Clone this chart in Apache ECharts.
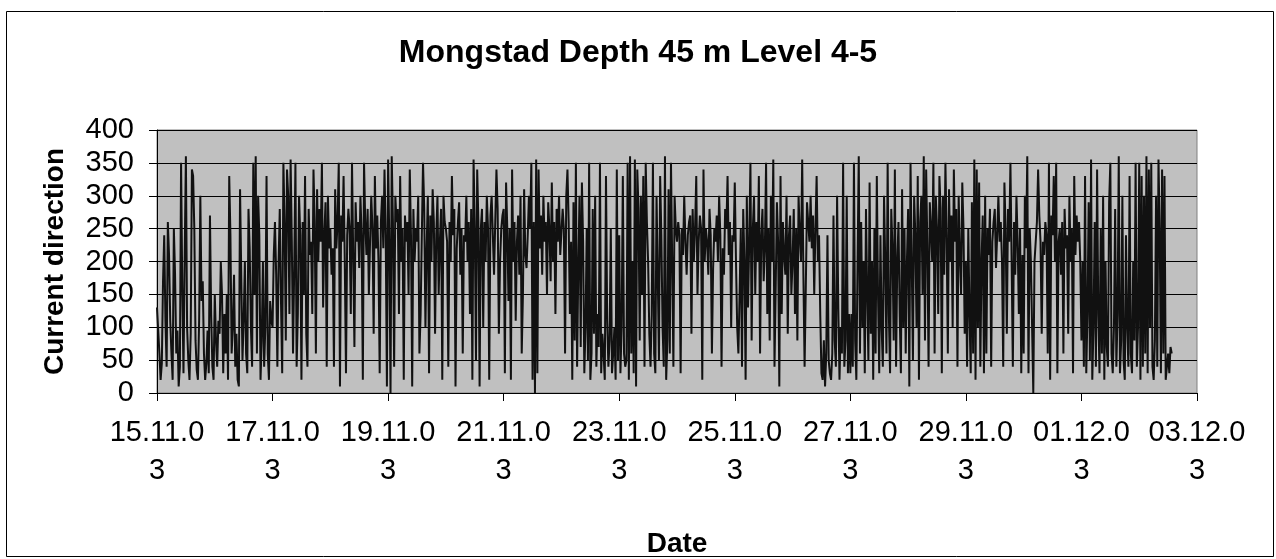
<!DOCTYPE html>
<html>
<head>
<meta charset="utf-8">
<script src="https://cdn.jsdelivr.net/npm/echarts@6/dist/echarts.min.js"></script>
<style>
html,body{margin:0;padding:0;background:#fff;}
#chart{width:1276px;height:559px;}
</style>
</head>
<body>
<div id="chart"></div>
<script>
// Half-hourly current direction (degrees), one array per day, starting 15.11.03 00:00
const day15 = [130,95,60,20,45,170,240,110,40,260,210,110,60,20,250,180,60,95,10,40,350,160,30,210,360,100,50,20,90,340,330,250,80,35,20,110,300,140,170,60,20,45,95,30,270,120,40,20];
const day16 = [150,80,40,110,90,200,150,30,120,60,150,20,330,240,60,100,180,40,90,20,10,310,180,50,110,200,60,30,280,220,100,40,350,150,360,60,300,240,20,80,200,40,100,330,60,20,140,110];
const day17 = [100,210,260,180,40,200,280,140,30,350,260,80,340,300,120,355,230,60,190,350,40,120,300,240,20,260,150,330,90,40,280,210,230,120,340,260,60,310,200,280,230,350,130,240,290,40,300,220];
const day18 = [250,180,220,40,310,220,260,350,10,270,230,330,200,30,240,280,250,120,350,210,70,290,230,260,190,300,240,20,350,260,210,280,150,230,300,250,90,330,220,270,200,30,260,300,220,340,240,10];
const day19 = [355,230,0,360,260,40,300,260,280,120,330,200,250,20,270,230,260,150,340,240,10,280,200,250,230,300,60,120,240,350,280,100,220,300,30,270,200,310,260,90,240,300,150,230,280,20,300,260];
const day20 = [250,230,40,260,200,330,240,280,10,220,260,290,180,250,60,240,230,300,200,260,120,280,20,355,250,50,340,260,10,250,280,100,260,200,300,250,20,270,300,240,180,260,340,280,90,200,250,270];
const day21 = [280,30,320,250,140,250,20,340,200,260,110,230,270,180,300,60,150,310,210,190,240,300,250,350,20,260,0,355,30,340,220,270,180,300,230,260,150,290,250,170,320,200,260,120,280,230,300,210];
const day22 = [210,280,250,60,300,340,260,120,230,20,290,80,350,40,190,300,70,320,230,30,100,250,50,350,20,60,280,90,300,40,120,70,350,30,90,60,20,330,110,40,80,250,30,60,100,20,340,50];
const day23 = [240,30,100,330,60,40,50,350,20,360,60,200,30,355,10,340,280,80,300,150,330,40,350,260,200,90,40,120,350,60,30,300,180,50,330,240,100,40,360,20,80,310,60,350,200,40,300,250];
const day24 = [230,260,240,30,250,210,300,230,180,240,260,270,90,280,200,250,330,150,230,270,250,20,340,200,250,230,180,280,240,60,190,250,230,270,200,300,240,40,220,180,280,250,330,210,260,100,240,230];
const day25 = [320,200,100,60,150,250,40,280,200,20,300,130,230,350,80,250,300,150,260,200,330,60,240,280,170,220,350,120,250,80,300,200,355,40,160,290,230,10,330,120,260,210,180,300,90,240,270,150];
const day26 = [200,280,120,250,80,300,240,200,355,180,40,160,290,260,230,300,220,270,150,250,330,200,240,120,30,20,80,10,60,240,50,30,20,60,270,80,40,300,130,20,100,60,350,40,80,300,30,120];
const day27 = [30,120,40,350,80,20,200,360,60,260,100,200,30,280,150,50,320,90,200,20,250,60,330,150,30,240,100,40,300,200,60,350,120,30,280,220,80,340,40,200,260,120,30,310,100,250,60,200];
const day28 = [280,10,350,200,50,300,240,100,330,20,260,300,150,360,80,340,220,40,290,250,200,350,60,300,250,120,330,280,30,300,180,350,240,60,310,200,270,100,340,230,280,40,300,210,150,320,250,90];
const day29 = [200,40,250,120,30,290,60,355,20,340,100,320,40,200,270,30,300,60,250,210,280,40,230,260,280,190,240,300,230,260,200,40,320,250,90,280,230,350,200,40,260,180,300,230,120,250,30,210];
const day30 = [60,300,220,360,30,250,200,100,0,200,230,260,340,270,230,90,230,210,260,240,60,350,20,270,240,330,200,350,30,230,250,180,260,60,280,220,240,90,300,200,250,30,330,210,270,230,260,200];
const day01 = [80,200,40,330,30,120,290,50,355,20,100,260,40,340,120,30,250,60,300,20,200,70,40,290,350,60,30,100,280,40,120,360,30,80,300,50,20,240,100,40,330,60,30,200,80,350,40,100];
const day02 = [350,20,330,40,300,60,360,30,340,100,350,40,20,80,300,40,355,250,30,340,60,330,20,40,60,30,70,60];

const samplesPerDay = 48;
const startDate = [2003, 10, 15]; // 15.11.2003 (month index 10)
const yTicks = [0,50,100,150,200,250,300,350,400];

const days = [day15,day16,day17,day18,day19,day20,day21,day22,day23,day24,day25,day26,day27,day28,day29,day30,day01,day02];
const seriesData = [];
days.forEach((arr, d) => {
  const n = Math.max(arr.length, samplesPerDay);
  arr.forEach((v, j) => seriesData.push([d + j / n, v]));
});

function pad(n){return (n<10?'0':'')+n;}
function dateLabel(dayOffset){
  const t = Date.UTC(startDate[0],startDate[1],startDate[2]) + Math.round(dayOffset)*86400000;
  const d = new Date(t);
  const s = pad(d.getUTCDate())+'.'+pad(d.getUTCMonth()+1)+'.'+pad(d.getUTCFullYear()%100);
  return s.slice(0,7)+'\n'+s.slice(7);
}

const FONT = 'Liberation Sans, Arial, sans-serif';
const chart = echarts.init(document.getElementById('chart'), null, {renderer:'canvas'});
chart.setOption({
  animation:false,
  backgroundColor:'#ffffff',
  title:{
    text:'Mongstad Depth 45 m Level 4-5',
    left:'center', top:32,
    textStyle:{fontFamily:FONT, fontSize:32, fontWeight:'bold', color:'#000'}
  },
  graphic:[{
    type:'rect', left:4, top:9, shape:{x:0,y:0,width:1267,height:545},
    style:{fill:'none', stroke:'#000', lineWidth:1}, silent:true, z:-1
  }],
  grid:{left:157, right:79, top:130, bottom:166, show:true, backgroundColor:'#c0c0c0', borderColor:'#808080', borderWidth:1},
  xAxis:{
    type:'value', min:0, max:18, interval:2,
    name:'Date', nameLocation:'middle', nameGap:137,
    nameTextStyle:{fontFamily:FONT, fontSize:28, fontWeight:'bold', color:'#000'},
    axisLine:{show:true, lineStyle:{color:'#000', width:1}},
    axisTick:{show:true, length:8, lineStyle:{color:'#000'}},
    splitLine:{show:false},
    axisLabel:{
      formatter:dateLabel, margin:21, lineHeight:38,
      fontFamily:FONT, fontSize:29, color:'#000'
    }
  },
  yAxis:{
    type:'value', min:yTicks[0], max:yTicks[yTicks.length-1], interval:50,
    name:'Current direction', nameLocation:'middle', nameGap:88,
    nameTextStyle:{fontFamily:FONT, fontSize:28, fontWeight:'bold', color:'#000'},
    axisLine:{show:true, lineStyle:{color:'#000', width:1}},
    axisTick:{show:true, length:8, lineStyle:{color:'#000'}},
    splitLine:{show:true, lineStyle:{color:'#000', width:1}},
    axisLabel:{margin:23, fontFamily:FONT, fontSize:29, color:'#000'}
  },
  series:[{
    type:'line', data:seriesData, symbol:'none',
    lineStyle:{color:'#111', width:2}, z:3
  }]
});
</script>
</body>
</html>
